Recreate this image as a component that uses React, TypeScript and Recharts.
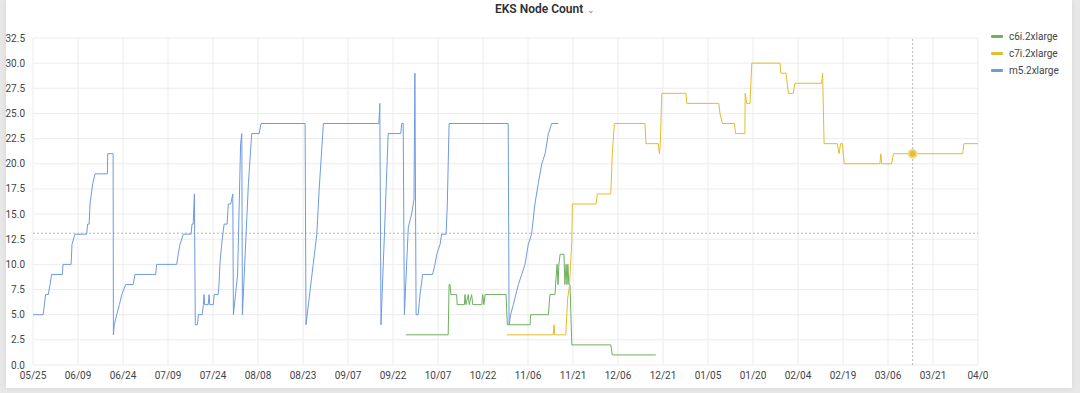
import React from 'react';
import {
  LineChart, Line, XAxis, YAxis, CartesianGrid, ReferenceLine, ReferenceDot,
} from 'recharts';

// x = days since 05/25, y = node count
const xTickDays = [0, 15, 30, 45, 60, 75, 90, 105, 120, 135, 150, 165, 180, 195, 210, 225, 240, 255, 270, 285, 300, 315];
// the last label is cut off in the panel, only "04/0" is visible
const xTickLabels = ['05/25', '06/09', '06/24', '07/09', '07/24', '08/08', '08/23', '09/07', '09/22', '10/07', '10/22',
  '11/06', '11/21', '12/06', '12/21', '01/05', '01/20', '02/04', '02/19', '03/06', '03/21', '04/0'];
const yTicks = [0, 2.5, 5, 7.5, 10, 12.5, 15, 17.5, 20, 22.5, 25, 27.5, 30, 32.5];

const m5Points: [number, number][] = [
  [0, 5], [3.4, 5], [4.2, 7], [5.1, 7], [5.7, 8], [6.2, 9], [9.8, 9], [10, 10], [12.7, 10], [13, 12], [14, 13],
  [17.9, 13], [18.2, 14], [18.7, 14], [19, 16], [19.9, 18], [20.7, 19], [24.8, 19], [24.9, 21], [26.7, 21],
  [26.8, 3], [27.1, 4], [27.9, 5], [28.8, 6], [29.6, 7], [30.9, 8], [33.4, 8], [34, 9], [40.9, 9], [41.2, 10],
  [47.9, 10], [48.4, 11], [49, 12], [50.1, 13], [52.7, 13], [53, 14], [53.4, 14], [53.8, 17], [54.1, 4],
  [54.8, 4], [55.1, 5], [56.4, 5], [56.8, 6], [57, 7], [57.2, 6], [58.4, 6], [58.7, 7], [58.9, 6], [60.1, 6],
  [60.4, 7], [61.7, 7], [62, 8], [62.3, 10], [62.9, 12], [63.7, 14], [64.7, 14], [65.1, 16], [65.9, 16],
  [66.6, 17], [66.8, 5], [68.2, 9], [69.2, 22], [69.6, 23], [69.8, 5], [71.8, 18], [72.9, 23], [75.4, 23],
  [76, 24], [90.7, 24], [91, 4], [93.4, 10], [94.6, 13], [95.4, 17.5], [96.8, 24], [115.3, 24], [115.6, 26],
  [116, 4], [118.4, 23], [122.6, 23], [122.9, 24], [123.4, 24], [123.8, 5], [125.1, 13.7], [126.2, 15],
  [127, 16.5], [127.3, 29], [127.7, 5], [128.4, 5], [129, 7], [129.9, 9], [133.2, 9], [134, 10], [134.6, 11],
  [135.7, 12], [136.2, 13], [137.7, 13], [138.1, 16], [138.7, 24], [158.4, 24], [158.7, 4], [159.2, 5],
  [160.1, 6], [161.8, 8], [162.9, 9], [164, 10], [165.1, 12], [166.2, 13], [167.3, 16], [168.4, 18],
  [169.6, 20], [170.7, 21], [171.8, 23], [172.9, 24], [175.1, 24],
];

const c6iPoints: [number, number][] = [
  [124.3, 3], [138.4, 3], [138.7, 8], [139, 8], [139.3, 7], [141.2, 7], [141.4, 6], [143.8, 6], [144, 7],
  [144.3, 6], [145.1, 7], [145.4, 6], [146.2, 7], [146.6, 6], [149.6, 6], [149.9, 7], [150.3, 6], [150.7, 7],
  [157.7, 7], [158.1, 4], [165.7, 4], [165.9, 5], [171.8, 5], [172.3, 7], [174, 7], [174.3, 8.5], [174.7, 10],
  [175, 8], [175.3, 10], [175.7, 11], [177, 11], [177.3, 8], [177.7, 10], [178, 8], [178.3, 10], [178.6, 8],
  [179, 8], [179.6, 2], [192.6, 2], [193.1, 1], [207.6, 1],
];

const c7iPoints: [number, number][] = [
  [157.9, 3], [173.4, 3], [173.7, 4], [173.9, 3], [177.6, 3], [178.2, 6.6], [178.8, 7.8], [179.1, 9.4],
  [179.6, 12.4], [179.8, 16], [187.7, 16], [188.1, 17], [192.6, 17], [193.1, 21], [193.8, 24], [204, 24],
  [204.3, 22], [208.4, 22], [208.8, 21], [209.1, 22], [209.6, 27], [217.7, 27], [217.9, 26], [228.6, 26],
  [229, 25], [229.8, 24], [233.8, 24], [234.2, 23], [237.3, 23], [237.4, 27], [237.9, 26], [239, 26],
  [239.6, 30], [249, 30], [249.3, 29], [251, 29], [251.8, 27], [253.4, 27], [254, 28], [262.9, 28],
  [263.2, 29], [263.7, 22], [268.1, 22], [268.7, 21], [269.2, 22], [269.8, 22], [270.4, 20], [282.3, 20],
  [282.6, 21], [282.9, 20], [286.2, 20], [286.8, 21], [309.9, 21], [310.3, 22], [315, 22],
];

const seriesNames = ['c6i.2xlarge', 'c7i.2xlarge', 'm5.2xlarge'];
const seriesColors = ['#6fb05f', '#e3bd2c', '#6e9ae4'];

const hoverDay = 293.2;
const hoverValue = 21;
const hoverCount = 13.1;

const toData = (pts: [number, number][]) => pts.map(([d, v]) => ({ d, v }));

const font = 'Roboto, "Noto Sans", sans-serif';

export default function App() {
  const series = [toData(c6iPoints), toData(c7iPoints), toData(m5Points)];

  return (
    <div style={{ position: 'relative', width: 1080, height: 393, background: '#e8e8e8', fontFamily: font, overflow: 'hidden' }}>
      <style>{'body{margin:0}'}</style>
      <div style={{
        position: 'absolute', left: 6, top: 0, width: 1066, height: 388, background: '#fff',
        boxShadow: '0 0 6px rgba(0,0,0,0.08)',
      }} />
      <div style={{
        position: 'absolute', left: 495, top: 1, fontSize: 12, fontWeight: 600, color: '#2c2f33',
        lineHeight: '16px', whiteSpace: 'nowrap',
      }}>
        EKS Node Count<span style={{ fontSize: 9, fontWeight: 400, color: '#777', marginLeft: 4 }}>⌄</span>
      </div>

      <div style={{ position: 'absolute', left: 0, top: 0 }}>
        <LineChart width={990} height={393} margin={{ top: 38, right: 12, bottom: 8, left: 0 }}>
          <CartesianGrid stroke="#ececec" strokeWidth={1} />
          <XAxis
            dataKey="d"
            type="number"
            domain={[0, 315]}
            ticks={xTickDays}
            tickFormatter={(d: number) => xTickLabels[xTickDays.indexOf(d)] ?? ''}
            allowDuplicatedCategory={false}
            interval={0}
            height={20}
            axisLine={false}
            tickLine={false}
            tickSize={0}
            tickMargin={7}
            tick={{ fill: '#3f444a', fontSize: 10, fontFamily: font }}
          />
          <YAxis
            type="number"
            domain={[0, 32.5]}
            ticks={yTicks}
            interval={0}
            width={33}
            axisLine={false}
            tickLine={false}
            tickSize={0}
            tickMargin={8}
            tickFormatter={(v: number) => v.toFixed(1)}
            tick={{ fill: '#3f444a', fontSize: 10, fontFamily: font }}
          />
          <ReferenceLine y={hoverCount} stroke="#b8b8b8" strokeDasharray="2 2" />
          <ReferenceLine x={hoverDay} stroke="#b8b8b8" strokeDasharray="2 2" />
          {series.map((data, i) => (
            <Line
              key={seriesNames[i]}
              data={data}
              dataKey="v"
              name={seriesNames[i]}
              type="linear"
              stroke={seriesColors[i]}
              strokeWidth={1}
              dot={false}
              activeDot={false}
              isAnimationActive={false}
            />
          ))}
          <ReferenceDot x={hoverDay} y={hoverValue} r={4} fill="#e3bd2c" stroke="#f3dc8a" strokeWidth={2} />
        </LineChart>
      </div>

      <div style={{ position: 'absolute', left: 991, top: 28, fontSize: 10, color: '#3f444a' }}>
        {seriesNames.map((name, i) => (
          <div key={name} style={{ display: 'flex', alignItems: 'center', height: 17 }}>
            <span style={{ display: 'inline-block', width: 12, height: 3, borderRadius: 1, background: seriesColors[i], marginRight: 6 }} />
            <span>{name}</span>
          </div>
        ))}
      </div>
    </div>
  );
}
